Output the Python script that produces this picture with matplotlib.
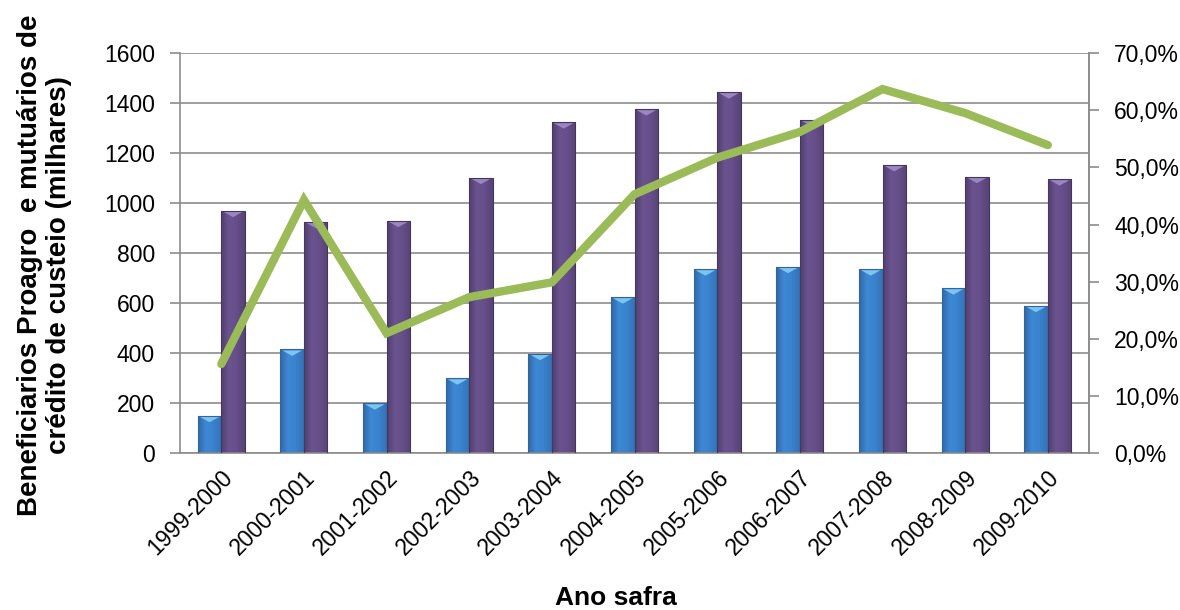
import matplotlib
matplotlib.use("Agg")
from matplotlib import pyplot as plt
from matplotlib.ticker import FuncFormatter, MultipleLocator
from matplotlib.colors import LinearSegmentedColormap
import numpy as np

plt.rcParams['font.family'] = ['Liberation Sans', 'DejaVu Sans']

safras = ['1999-2000', '2000-2001', '2001-2002', '2002-2003', '2003-2004',
          '2004-2005', '2005-2006', '2006-2007', '2007-2008', '2008-2009',
          '2009-2010']
# milhares
beneficiarios_proagro = [150, 415, 200, 300, 398, 624, 736, 746, 736, 660, 590]
mutuarios_custeio = [970, 926, 930, 1102, 1324, 1376, 1444, 1333, 1153, 1106, 1096]
# percentual (%)
percentual = [15.6, 44.3, 21.0, 27.3, 29.9, 45.3, 51.7, 56.2, 63.7, 59.5, 53.9]

x = np.arange(len(safras))
w = 0.285

fig = plt.figure(figsize=(11.8, 6.1), dpi=100)
ax = fig.add_axes([0.1525, 0.257, 0.7705, 0.656])

cmap_azul = LinearSegmentedColormap.from_list('azul', ['#3068a8', '#3e88d4', '#3a82cc', '#3372b6'])
cmap_roxo = LinearSegmentedColormap.from_list('roxo', ['#52406f', '#6a5390', '#654e89', '#574375'])
grad = np.linspace(0, 1, 64).reshape(1, -1)


def barras(pos, vals, cmap, edge, topo):
    bars = ax.bar(pos, vals, w, color='none', edgecolor=edge, linewidth=0.8, zorder=3)
    for b in bars:
        x0, y0 = b.get_x(), b.get_y()
        bw, bh = b.get_width(), b.get_height()
        im = ax.imshow(grad, cmap=cmap, aspect='auto', extent=[x0, x0 + bw, y0, y0 + bh],
                       zorder=2)
        im.set_clip_path(b)
        # pequeno triângulo claro no topo
        ax.fill([x0 + bw * 0.08, x0 + bw * 0.92, x0 + bw / 2],
                [y0 + bh - 4, y0 + bh - 4, y0 + bh - 26], color=topo, zorder=2.5, lw=0)


barras(x - w / 2, beneficiarios_proagro, cmap_azul, '#35649a', '#7cc4f2')
barras(x + w / 2, mutuarios_custeio, cmap_roxo, '#45365c', '#9a86c0')

ax.set_ylim(0, 1600)
ax.set_xlim(-0.5, len(safras) - 0.5)
ax.yaxis.set_major_locator(MultipleLocator(200))
ax.grid(axis='y', color='#8c8c8c', linewidth=1.2, zorder=0)
ax.set_axisbelow(True)

ax.spines['top'].set_visible(False)
for s in ['left', 'right', 'bottom']:
    ax.spines[s].set_color('#8c8c8c')
    ax.spines[s].set_linewidth(1.2)

ax.tick_params(axis='y', length=7, width=1.2, color='#8c8c8c', labelsize=16.5, pad=11)
ax.tick_params(axis='x', length=0, labelsize=16.5, pad=9)
ax.set_xticks(x)
ax.set_xticklabels(safras, rotation=45, ha='right', rotation_mode='anchor')

fig.text(45 / 1180, 1 - 265 / 610,
         'Beneficiarios Proagro  e mutuários de\ncrédito de custeio (milhares)',
         rotation=90, ha='center', va='center', multialignment='center',
         fontsize=20, fontweight='bold', linespacing=1.15)
fig.text(616 / 1180, 1 - 598 / 610, 'Ano safra', ha='center', va='center',
         fontsize=19, fontweight='bold')

ax2 = ax.twinx()
ax2.plot(x, percentual, color='#9bbb59', linewidth=6, solid_capstyle='round',
         solid_joinstyle='miter', zorder=5)
ax2.set_ylim(0, 70)
ax2.yaxis.set_major_locator(MultipleLocator(10))
ax2.yaxis.set_major_formatter(FuncFormatter(lambda v, p: ('%.1f%%' % v).replace('.', ',')))
ax2.tick_params(axis='y', length=7, width=1.2, color='#8c8c8c', labelsize=16.5, pad=11)
for s in ['top', 'left', 'bottom']:
    ax2.spines[s].set_visible(False)
ax2.spines['right'].set_color('#8c8c8c')
ax2.spines['right'].set_linewidth(1.2)

fig.savefig('out.png', dpi=100)
